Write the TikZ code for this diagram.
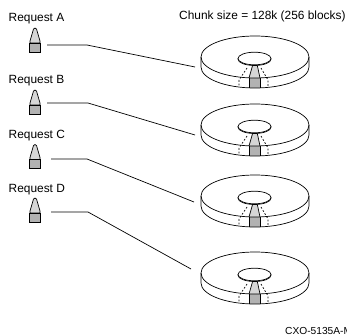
\documentclass[tikz,border=0pt]{standalone}
\usepackage{fontspec}
\setmainfont{Liberation Sans}
\tikzset{
 lbl/.style={inner sep=0pt,anchor=base west,font=\fontsize{11.9}{13}\selectfont},
 wire/.style={line width=0.7pt,black},
 pen/.style={line width=0.7pt,black},
 dots/.style={line width=0.7pt,black,dash pattern=on 1.8pt off 1.8pt},
}
\definecolor{lg}{gray}{0.84}
\definecolor{dg}{gray}{0.70}
\newcommand{\bullt}[2]{%
 \begin{scope}[shift={(#1,#2)}]
 \draw[pen,fill=lg,line join=round] (0.5,15) -- (0.5,13) -- (4,1) .. controls (4.5,-0.3) and (6.5,-0.3) .. (7,1) -- (10.5,13) -- (10.5,15) -- cycle;
 \draw[pen,fill=dg] (0,15) rectangle (11,24);
 \end{scope}}
\newcommand{\dsk}[2]{%
 \begin{scope}[shift={(#1,#2)}]
 \fill[white] (-54,0) -- (-54,10) arc[start angle=180,end angle=0,x radius=54,y radius=21] -- (54,0) arc[start angle=0,end angle=-180,x radius=54,y radius=21] -- cycle;
 \fill[lg] (-2,7) -- (2,7) -- (5,21) -- (-6,21) -- cycle;
 \draw[pen] (-2,7) -- (-6,21) (2,7) -- (5,21);
 \fill[dg] (-6,21) -- (5,21) -- (5,31) -- (-6,31) -- cycle;
 \draw[pen] (-6,21) -- (-6,31) (5,21) -- (5,31);
 \draw[dots] (-8,11) -- (-16,23) -- (-16,30);
 \draw[dots] (6,11) -- (13,23) -- (13,30);
 \draw[pen] (-54,0) -- (-54,10) arc[start angle=180,end angle=0,x radius=54,y radius=21] -- (54,0) arc[start angle=0,end angle=-180,x radius=54,y radius=21] -- cycle;
 \draw[pen] (-54,0) arc[start angle=180,end angle=0,x radius=54,y radius=21];
 \draw[pen,fill=white] (-0.5,2.2) ellipse[x radius=16.5,y radius=6.3];
 \draw[pen,fill=white] (-0.5,1.5) ellipse[x radius=16.5,y radius=6.3];
 \end{scope}}
\begin{document}
\begin{tikzpicture}[x=1pt,y=-1pt]
\useasboundingbox (0,0) rectangle (347,334);
\path[clip] (0,0) rectangle (347,334);
\node[lbl] (ta) at (8.5,22) {Request A};
\node[lbl] (tb) at (8.5,84) {Request B};
\node[lbl] (tc) at (8.5,138) {Request C};
\node[lbl] (td) at (8.5,192) {Request D};
\node[lbl] (ch) at (179,20) {Chunk size = 128k (256 blocks)};
\node[lbl,font=\fontsize{10.2}{11}\selectfont] (fig) at (285,334) {CXO-5135A-M};
\bullt{29.5}{28}
\bullt{29.5}{90}
\bullt{29.5}{144.5}
\bullt{29.5}{198}
\dsk{255}{57}
\dsk{255}{125}
\dsk{255}{196}
\dsk{255}{273}
\coordinate (ra) at (47,45);
\coordinate (rb) at (47,103);
\coordinate (rc) at (51,159);
\coordinate (rd) at (51,212);
\coordinate (ka) at (87,45);
\coordinate (kb) at (88,103);
\coordinate (kc) at (87,159);
\coordinate (kd) at (88,212);
\coordinate (da) at (195,67);
\coordinate (db) at (195,135);
\coordinate (dc) at (194,202);
\coordinate (dd) at (191,269);
\draw[wire] (ra) -- (ka) -- (da);
\draw[wire] (rb) -- (kb) -- (db);
\draw[wire] (rc) -- (kc) -- (dc);
\draw[wire] (rd) -- (kd) -- (dd);
\end{tikzpicture}
\end{document}
